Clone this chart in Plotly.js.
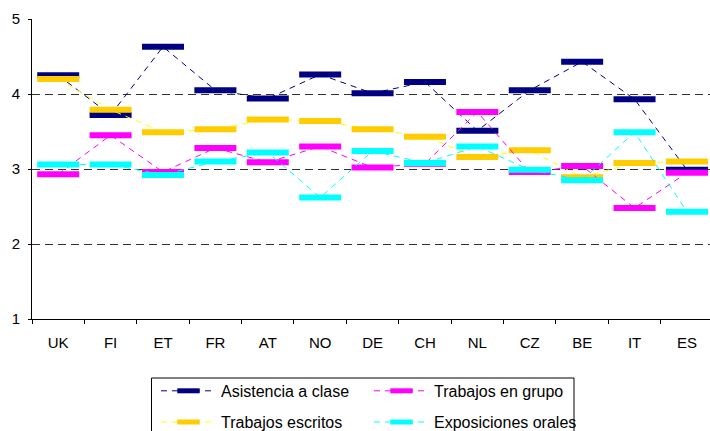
<!DOCTYPE html>
<html>
<head>
<meta charset="utf-8">
<script src="https://cdn.plot.ly/plotly-3.0.1.min.js"></script>
<style>
  html, body { margin: 0; padding: 0; background: #ffffff; }
  #chart { width: 710px; height: 431px; }
</style>
</head>
<body>
<div id="chart"></div>
<script>
const categories = ["UK", "FI", "ET", "FR", "AT", "NO", "DE", "CH", "NL", "CZ", "BE", "IT", "ES"];
const asistencia = [4.25, 3.72, 4.63, 4.05, 3.94, 4.26, 4.01, 4.16, 3.51, 4.05, 4.43, 3.93, 2.99];
const escritos   = [4.20, 3.79, 3.49, 3.53, 3.66, 3.64, 3.53, 3.43, 3.16, 3.25, 2.89, 3.08, 3.10];
const grupo      = [2.93, 3.45, 2.96, 3.28, 3.09, 3.30, 3.02, 3.07, 3.76, 2.96, 3.04, 2.48, 2.95];
const orales     = [3.06, 3.06, 2.92, 3.10, 3.22, 2.62, 3.24, 3.08, 3.30, 2.99, 2.85, 3.49, 2.43];
const yTicks = [1, 2, 3, 4, 5];

const FONT = "Liberation Sans, Arial, sans-serif";

function series(name, y, lineColor, markerColor, legendId) {
  return {
    type: "scatter",
    mode: "lines+markers",
    name: name,
    x: categories,
    y: y,
    legend: legendId,
    line: { color: lineColor, width: 1, dash: "6px,5px" },
    marker: { symbol: "line-ew", size: 30, color: markerColor,
              line: { color: markerColor, width: 6 } },
    cliponaxis: false,
    hoverinfo: "skip"
  };
}

const traces = [
  series("Asistencia a clase", asistencia, "#000080", "#000080", "legend"),
  series("Trabajos escritos", escritos, "#FFFF00", "#FFCC00", "legend2"),
  series("Trabajos en grupo", grupo, "#FF00FF", "#FF00FF", "legend"),
  series("Exposiciones orales", orales, "#00FFFF", "#00FFFF", "legend2")
];

const legendCommon = {
  orientation: "h",
  xanchor: "left",
  yanchor: "top",
  bgcolor: "rgba(0,0,0,0)",
  borderwidth: 0,
  font: { family: FONT, size: 16, color: "#000000" },
  entrywidth: 143,
  entrywidthmode: "pixels",
  itemwidth: 55,
  itemclick: false,
  itemdoubleclick: false
};

const layout = {
  width: 710,
  height: 431,
  margin: { l: 32, r: 0, t: 19, b: 112, pad: 0, autoexpand: false },
  paper_bgcolor: "#ffffff",
  plot_bgcolor: "#ffffff",
  font: { family: FONT, size: 15, color: "#000000" },
  showlegend: true,
  xaxis: {
    type: "category",
    range: [-0.5, 12.44],
    showline: true,
    linecolor: "#000000",
    linewidth: 1,
    showgrid: false,
    zeroline: false,
    ticks: "outside",
    tickson: "boundaries",
    ticklen: 4,
    tickcolor: "#000000",
    tickfont: { family: FONT, size: 15, color: "#000000" },
    ticklabelstandoff: 10,
    automargin: false
  },
  yaxis: {
    range: [1, 5],
    tickvals: yTicks,
    ticktext: yTicks.map(String),
    showline: true,
    linecolor: "#000000",
    linewidth: 1,
    showgrid: true,
    gridcolor: "#333333",
    gridwidth: 1,
    griddash: "8px,5px",
    zeroline: false,
    ticks: "outside",
    ticklen: 3,
    tickcolor: "#000000",
    tickfont: { family: FONT, size: 15, color: "#000000" },
    ticklabelstandoff: 5,
    automargin: false
  },
  legend: Object.assign({}, legendCommon, { x: (156 - 32) / 678, y: -0.183 }),
  legend2: Object.assign({}, legendCommon, { x: (156 - 32) / 678, y: -0.287 }),
  shapes: [
    { type: "rect", xref: "paper", yref: "paper",
      x0: (151.5 - 32) / 678, x1: (574 - 32) / 678,
      y0: (319 - 378) / 300, y1: (319 - 445) / 300,
      line: { color: "#000000", width: 1 }, fillcolor: "rgba(0,0,0,0)", layer: "below" }
  ]
};

Plotly.newPlot("chart", traces, layout, { staticPlot: true, displayModeBar: false });
</script>
</body>
</html>
